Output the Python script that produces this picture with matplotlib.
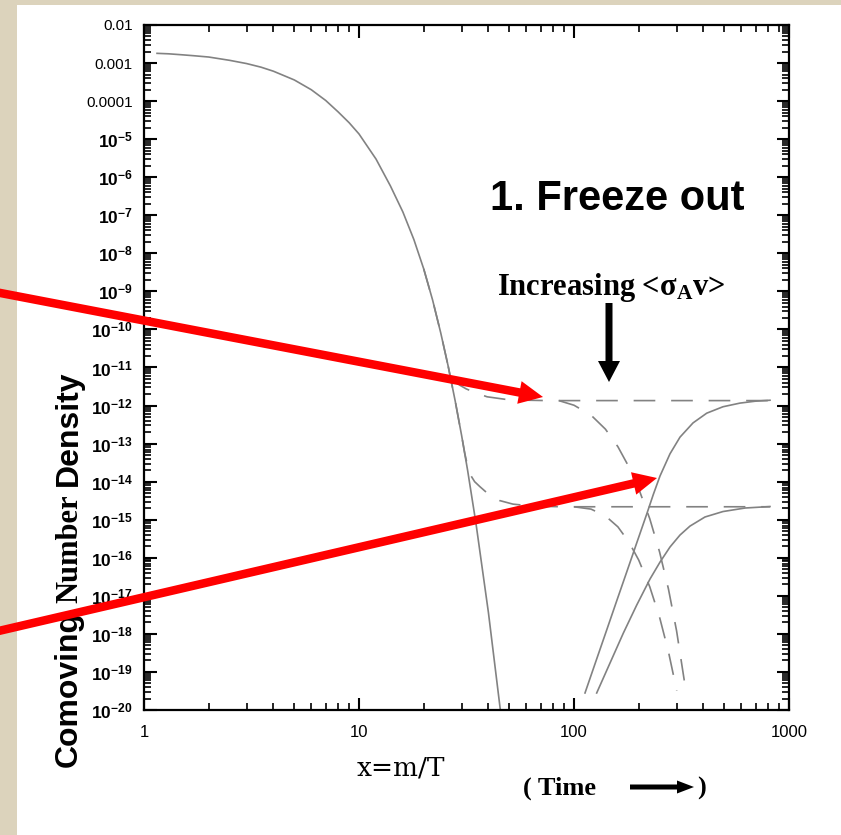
import numpy as np
import matplotlib.pyplot as plt
from matplotlib import ticker
from matplotlib.patches import FancyArrow, Rectangle
from matplotlib.transforms import IdentityTransform

plt.rcParams['mathtext.default'] = 'regular'

# equilibrium abundance (solid)
x_eq = [1.15, 1.3, 1.5, 1.7, 2.0, 2.5, 3.0, 3.5, 4.0, 5.0, 6.0, 7.0, 8.0, 9.0, 10.0,
        12.0, 14.0, 16.0, 18.0, 20.0, 22.0, 24.0, 26.0, 28.0, 30.0, 32.0, 35.0,
        40.0, 45.3, 47.0]
y_eq = [1.8e-3, 1.75e-3, 1.65e-3, 1.56e-3, 1.44e-3, 1.18e-3, 9.7e-4, 7.8e-4,
        6.1e-4, 3.6e-4, 1.99e-4, 1.04e-4, 5.2e-5, 2.7e-5, 1.37e-5, 3.0e-6,
        5.9e-7, 1.22e-7, 2.3e-8, 3.9e-9, 5.9e-10, 8.1e-11, 1.07e-11, 1.34e-12,
        1.65e-13, 1.99e-14, 8.0e-16, 3.6e-18, 1.15e-20, 1.8e-21]

# freeze-out, smaller <sigma v> (dashed, upper plateau)
x_fo1 = [20.0, 22.0, 24.0, 26.0, 27.0, 28.0, 29.5, 31.5, 33.9, 39.4, 50.0, 75.0,
         150, 300, 600, 816]
y_fo1 = [3.9e-9, 5.9e-10, 8.1e-11, 1.07e-11, 5.4e-12, 4.2e-12, 3.4e-12, 2.75e-12,
         2.3e-12, 1.7e-12, 1.41e-12, 1.35e-12, 1.35e-12, 1.35e-12, 1.35e-12,
         1.35e-12]

# freeze-out, larger <sigma v> (dashed, lower plateau)
x_fo2 = [26.0, 28.0, 30.0, 31.0, 32.0, 33.0, 34.5, 36.5, 40.0, 45.0, 52.0, 65.0,
         90.0, 200, 400, 816]
y_fo2 = [1.07e-11, 1.34e-12, 1.65e-13, 5.8e-14, 2.5e-14, 1.5e-14, 1.0e-14,
         7.4e-15, 4.7e-15, 3.2e-15, 2.57e-15, 2.26e-15, 2.19e-15, 2.19e-15,
         2.19e-15, 2.19e-15]

# dashed branches falling off the plateaus
x_dec1 = [85, 100, 120, 140, 160, 180, 200, 225, 250, 275, 300, 334]
y_dec1 = [1.35e-12, 1.02e-12, 5.6e-13, 2.4e-13, 8.3e-14, 2.45e-14, 6.5e-15,
          1.07e-15, 1.43e-16, 1.51e-17, 1.2e-18, 2.4e-20]
x_dec2 = [100, 120, 140, 160, 180, 200, 225, 250, 275, 300.6]
y_dec2 = [2.19e-15, 1.9e-15, 1.26e-15, 6.5e-16, 2.6e-16, 8.7e-17, 1.74e-17,
          2.75e-18, 3.4e-19, 3.2e-20]

# solid curves rising to the plateaus
x_rise1 = [112.5, 126.6, 141.9, 157.9, 175.8, 195.7, 217.9, 233.8, 251.2, 279.6,
           311.2, 357.8, 414.2, 493, 591.6, 695, 815.7]
y_rise1 = [2.8e-20, 1.95e-19, 1.26e-18, 7.3e-18, 4.2e-17, 2.44e-16, 1.41e-15,
           4.6e-15, 1.41e-14, 5.4e-14, 1.48e-13, 3.5e-13, 6.3e-13, 9.3e-13,
           1.16e-12, 1.3e-12, 1.38e-12]
x_rise2 = [127.5, 147.1, 169.5, 195.7, 225.7, 251.2, 279.6, 311.2, 346.3, 406.7,
           493, 624.2, 815.7]
y_rise2 = [2.8e-20, 1.72e-19, 1.04e-18, 5.7e-18, 2.77e-17, 7.7e-17, 1.92e-16,
           3.96e-16, 6.8e-16, 1.18e-15, 1.64e-15, 2.03e-15, 2.22e-15]

x_ticks = [1, 10, 100, 1000]
x_tick_labels = ['1', '10', '100', '1000']
y_exps = list(range(-20, -1))
y_tick_labels = ['0.01' if k == -2 else '0.001' if k == -3 else
                 '0.0001' if k == -4 else '10$^{%d}$' % k for k in y_exps]

W, H = 841, 835
fig = plt.figure(figsize=(W / 100, H / 100), dpi=100)
fig.patch.set_facecolor('#dcd3bc')
fig.add_artist(Rectangle((17 / W, 0), 1 - 17 / W, (H - 5) / H, transform=fig.transFigure,
                         facecolor='white', edgecolor='none', zorder=-10))

ax = fig.add_axes([144 / W, 1 - 710 / H, (789 - 144) / W, (710 - 25) / H])
ax.set_xscale('log')
ax.set_yscale('log')
ax.set_xlim(1, 1000)
ax.set_ylim(1e-20, 1e-2)

gray = '#828282'
dash = (0, (13, 9.5))
lw = 1.2
ax.plot(x_eq, y_eq, color=gray, lw=lw)
ax.plot(x_rise1, y_rise1, color=gray, lw=lw)
ax.plot(x_rise2, y_rise2, color=gray, lw=lw)
ax.plot(x_fo1, y_fo1, color=gray, lw=lw, ls=dash)
ax.plot(x_fo2, y_fo2, color=gray, lw=lw, ls=dash)
ax.plot(x_dec1, y_dec1, color=gray, lw=lw, ls=dash)
ax.plot(x_dec2, y_dec2, color=gray, lw=lw, ls=dash)

ax.set_xticks(x_ticks)
ax.set_xticklabels(x_tick_labels, fontsize=12, family='Liberation Sans')
ax.xaxis.set_minor_locator(ticker.LogLocator(base=10, subs=range(2, 10), numticks=100))
ax.xaxis.set_minor_formatter(ticker.NullFormatter())
ax.set_yticks([10.0 ** k for k in y_exps])
ax.set_yticklabels(y_tick_labels, family='Liberation Sans')
for lab, k in zip(ax.get_yticklabels(), y_exps):
    if k <= -5:
        lab.set_fontweight('bold')
        lab.set_fontsize(12.5)
    else:
        lab.set_fontsize(11)
ax.yaxis.set_minor_locator(ticker.LogLocator(base=10, subs=range(2, 10), numticks=100))
ax.yaxis.set_minor_formatter(ticker.NullFormatter())
ax.tick_params(which='both', direction='in', top=True, right=True)
ax.tick_params(which='major', length=9, width=1.5)
ax.tick_params(which='minor', length=5, width=1.2)
ax.tick_params(axis='y', pad=8)
ax.tick_params(axis='x', pad=11)
for s in ax.spines.values():
    s.set_linewidth(1.6)

# texts
fig.text(490 / W, 1 - 210 / H, '1. Freeze out', fontsize=30, fontweight='bold',
         family='Liberation Sans', ha='left', va='baseline')
fig.text(611 / W, 1 - 295 / H, 'Increasing <σ$_{A}$v>', fontsize=22, fontweight='bold',
         family='Liberation Serif', ha='center', va='baseline')
fig.text(357 / W, 1 - 775 / H, 'x=m/T', fontsize=19, family='DejaVu Serif',
         ha='left', va='baseline')
fig.text(523 / W, 1 - 795 / H, '( Time', fontsize=19, fontweight='bold',
         family='Liberation Serif', ha='left', va='baseline')
fig.text(697 / W, 1 - 795 / H, ')', fontsize=19, fontweight='bold',
         family='Liberation Serif', ha='left', va='baseline')
for word, y0, fam, size in [('Comoving', 767, 'Liberation Sans', 23),
                            ('Number', 603, 'Liberation Serif', 22),
                            ('Density', 486, 'Liberation Sans', 23)]:
    fig.text(77 / W, 1 - y0 / H, word, rotation=90, rotation_mode='anchor',
             ha='left', va='baseline', fontsize=size, fontweight='bold', family=fam)


def arrow(x0, y0, x1, y1, width, hw, hl, color):
    a = FancyArrow(x0, H - y0, x1 - x0, -(y1 - y0), width=width, head_width=hw,
                   head_length=hl, length_includes_head=True, transform=IdentityTransform(),
                   facecolor=color, edgecolor='none', zorder=10)
    fig.add_artist(a)


arrow(-10, 291, 543, 397, 8.5, 23, 24, 'red')
arrow(-10, 633, 657, 478, 8.5, 23, 24, 'red')
arrow(609, 303, 609, 382, 7, 22, 21, 'black')
arrow(630, 787, 694, 787, 5, 13, 17, 'black')

fig.savefig('out.png', dpi=100, facecolor=fig.get_facecolor())
